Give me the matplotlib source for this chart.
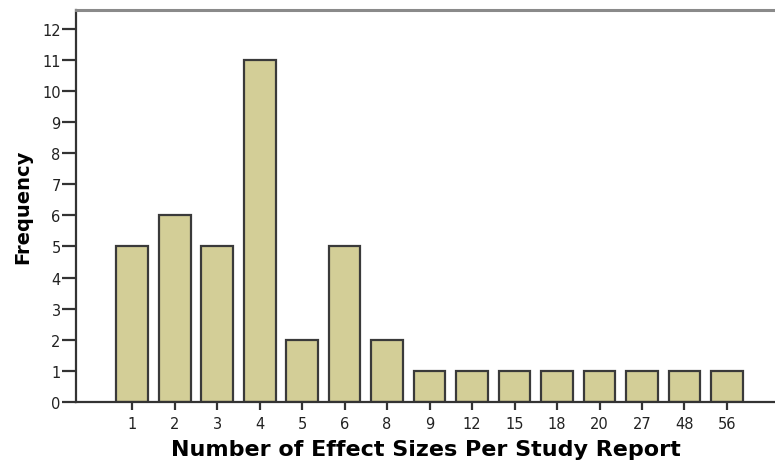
import matplotlib
matplotlib.use("Agg")
import matplotlib.pyplot as plt
import numpy as np

categories = ["1", "2", "3", "4", "5", "6", "8", "9", "12", "15", "18", "20", "27", "48", "56"]
frequency = [5, 6, 5, 11, 2, 5, 2, 1, 1, 1, 1, 1, 1, 1, 1]
yticks = list(range(0, 13))

plt.rcParams['font.family'] = ['DejaVu Sans']

fig = plt.figure(figsize=(7.75, 4.64), dpi=100)
ax = fig.add_axes([76/775, 1 - 403/464, 1 - 76/775, (403 - 11)/464])

x = np.arange(len(categories))
ax.bar(x, frequency, width=0.75, color="#d3ce97", edgecolor="#3a3a3a", linewidth=1.6, zorder=2)

ax.set_xlim(-1.32, 15.13)
ax.set_ylim(0, 12.6)
ax.set_xticks(x)
ax.set_xticklabels(categories)
ax.set_yticks(yticks)
ax.set_yticklabels([str(v) for v in yticks])

ax.spines['right'].set_visible(False)
ax.spines['top'].set_color("#8a8a8a")
ax.spines['top'].set_linewidth(2.2)
ax.spines['left'].set_color("#333333")
ax.spines['left'].set_linewidth(1.6)
ax.spines['bottom'].set_color("#333333")
ax.spines['bottom'].set_linewidth(1.6)

ax.tick_params(axis='both', direction='out', width=1.6, color="#333333",
               labelsize=10.5, labelcolor="#222222")
ax.tick_params(axis='y', length=10, pad=1)
ax.tick_params(axis='x', length=6, pad=4)

ax.set_ylabel("Frequency", fontsize=14, fontweight='bold', labelpad=7)
ax.set_xlabel("Number of Effect Sizes Per Study Report", fontsize=16, fontweight='bold', labelpad=6)

fig.savefig("out.png", dpi=100)
